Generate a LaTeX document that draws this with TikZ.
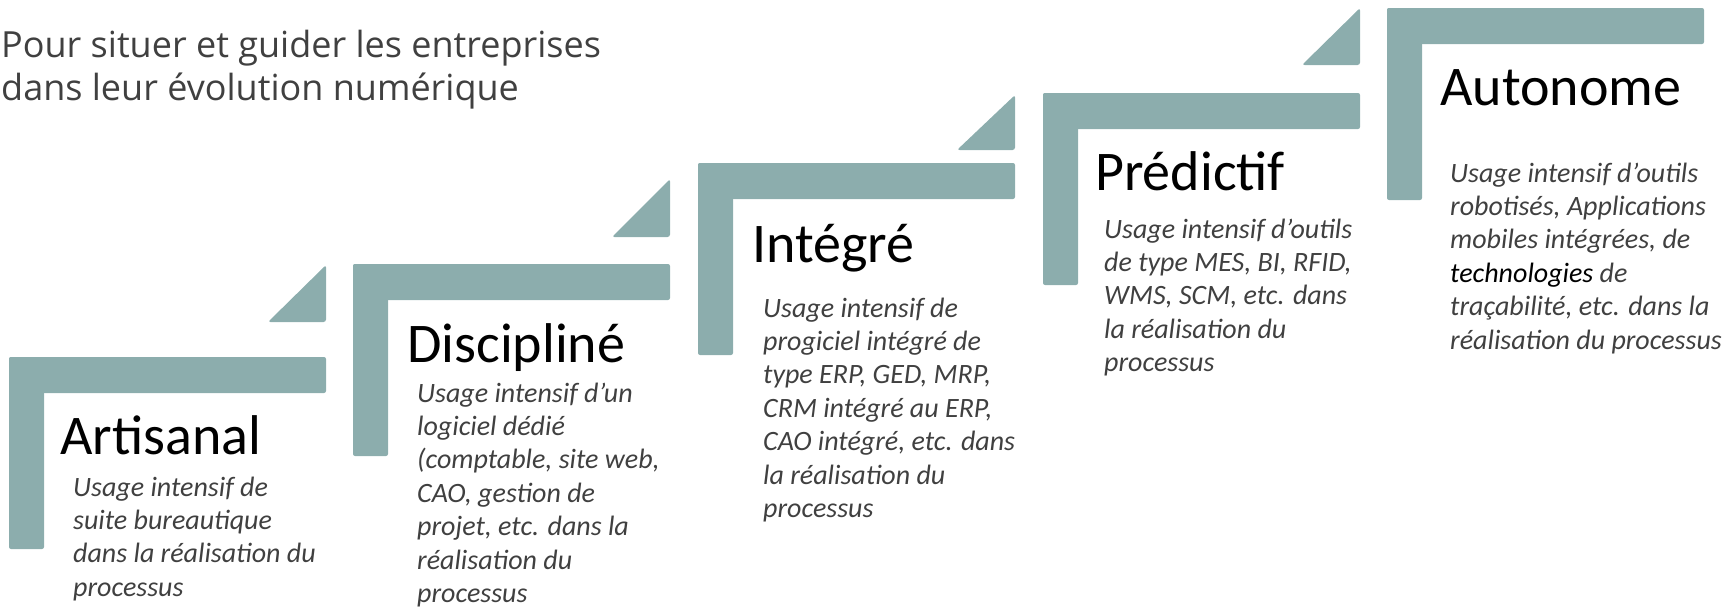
\documentclass[tikz,border=0pt]{standalone}
\usepackage{fontspec}
\setmainfont{Carlito}
\newfontfamily\titlefont{Open Sans}
\definecolor{stair}{RGB}{140,173,173}
\definecolor{desc}{RGB}{64,64,64}
\tikzset{
  bar/.style={fill=stair, rounded corners=2pt},
  tri/.style={fill=stair, rounded corners=2.5pt},
  heading/.style={anchor=base west, inner sep=0pt, font=\fontsize{56}{64}\selectfont, text=black},
  descr/.style={anchor=base west, inner sep=0pt, align=left, font=\fontsize{28}{33.4}\selectfont\itshape, text=desc},
  titletext/.style={anchor=base west, inner sep=0pt, align=left, font=\titlefont\fontsize{36}{43}\selectfont, text=desc}
}
\begin{document}
\begin{tikzpicture}[x=1pt,y=-1pt]
\useasboundingbox (0,0) rectangle (1723,608);
% L-shaped steps: (left x, top y, right x)
\foreach \lx/\ty/\rx in {9/357/326, 353/264/670, 698/163/1015, 1043/93/1360, 1387/8/1704}{
  \fill[bar] (\lx,\ty) rectangle (\rx,\ty+36);
  \fill[bar] (\lx,\ty) rectangle (\lx+35,\ty+192);
}
% triangles
\foreach \rx/\by/\ty in {326/322/265, 670/237/179, 1015/150/95, 1360/65/8}{
  \fill[tri] (\rx-58,\by) -- (\rx,\by) -- (\rx,\ty) -- cycle;
}
% anchors are at the baseline of the last line
\node[titletext] (title) at (1,100) {Pour situer et guider les entreprises\\dans leur évolution numérique};
\node[heading] (h1) at (60,454) {Artisanal};
\node[heading] (h2) at (407,362) {Discipliné};
\node[heading] (h3) at (752,262) {Intégré};
\node[heading] (h4) at (1095,190) {Prédictif};
\node[heading] (h5) at (1440,105) {Autonome};
\node[descr] (d1) at (73,596.2) {Usage intensif de\\suite bureautique\\dans la réalisation du\\processus};
\node[descr] (d2) at (417,602.4) {Usage intensif d’un\\logiciel dédié\\(comptable, site web,\\CAO, gestion de\\projet, etc. dans la\\réalisation du\\processus};
\node[descr] (d3) at (763,517.4) {Usage intensif de\\progiciel intégré de\\type ERP, GED, MRP,\\CRM intégré au ERP,\\CAO intégré, etc. dans\\la réalisation du\\processus};
\node[descr] (d4) at (1104,371.6) {Usage intensif d’outils\\de type MES, BI, RFID,\\WMS, SCM, etc. dans\\la réalisation du\\processus};
\node[descr] (d5) at (1450,349) {Usage intensif d’outils\\robotisés, Applications\\mobiles intégrées, de\\{\color{black}technologies} de\\traçabilité, etc. dans la\\réalisation du processus};
\end{tikzpicture}
\end{document}
